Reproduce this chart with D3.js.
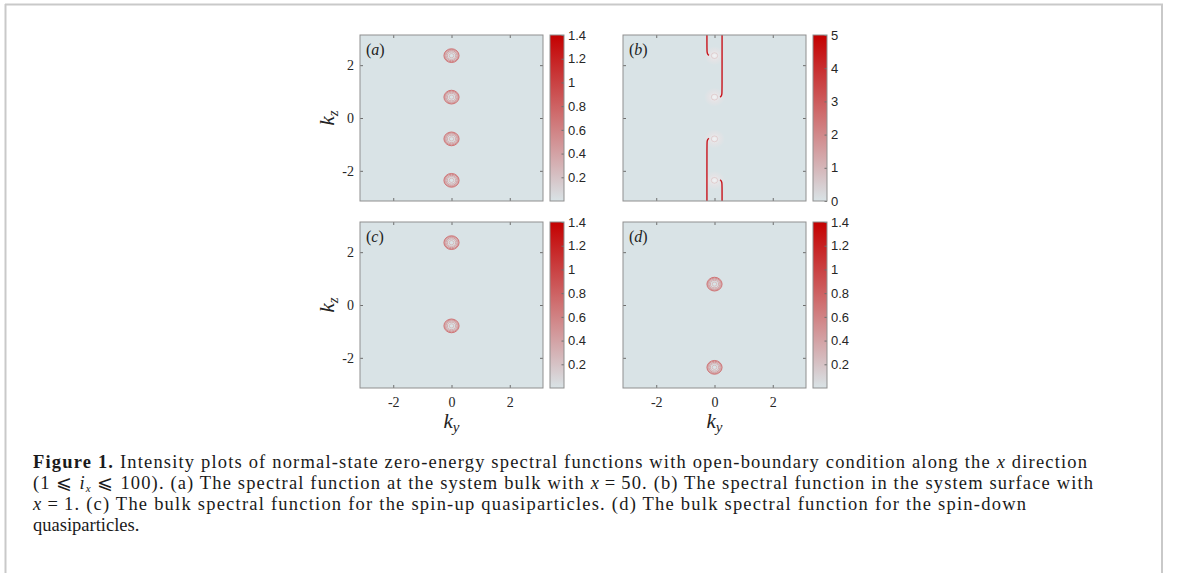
<!DOCTYPE html>
<html>
<head>
<meta charset="utf-8">
<script src="https://cdn.jsdelivr.net/npm/d3@7"></script>
<style>
body { margin: 0; background: #fff; }
</style>
</head>
<body>
<script>
// values
var kTicks = [-2, 0, 2];
var bulkTicks = [0.2, 0.4, 0.6, 0.8, 1, 1.2, 1.4];
var surfTicks = [0, 1, 2, 3, 4, 5];
var nodesA = [2.36, 0.79, -0.79, -2.36];
var nodesB = [2.36, 0.79, -0.79, -2.36];
var nodesC = [2.36, -0.79];
var nodesD = [0.79, -2.36];
var ringRadius = [0.26, 0.23, 0.19, 0.14, 0.08];
var ringLevel = [0.62, 0.5, 0.4, 0.3, 0.22];
// surface arcs in (b), [ky, kz]
var arcs = [
  [[-0.26, 3.2], [-0.26, 2.6], [-0.255, 2.47], [-0.23, 2.4], [-0.19, 2.37]],
  [[0.26, 3.2], [0.26, 1.02], [0.255, 0.89], [0.23, 0.82], [0.19, 0.79]],
  [[-0.19, -0.77], [-0.23, -0.8], [-0.255, -0.87], [-0.26, -1.0], [-0.26, -3.2]],
  [[0.19, -2.34], [0.23, -2.37], [0.255, -2.44], [0.26, -2.57], [0.26, -3.2]]
];

var W = 1179, H = 573;
var pw = 183, ph = 166;
var lowColor = "#d9e3e6", highColor = "#c40000";

var svg = d3.select("body").append("svg")
    .attr("width", W).attr("height", H)
    .style("display", "block");

svg.append("rect").attr("width", W).attr("height", H).attr("fill", "#fff");

// page frame
var frame = "#c9c9c9";
svg.append("line").attr("x1", 5.5).attr("x2", 5.5).attr("y1", 4).attr("y2", H).attr("stroke", frame).attr("stroke-width", 2);
svg.append("line").attr("x1", 5).attr("x2", 1163).attr("y1", 4.5).attr("y2", 4.5).attr("stroke", frame).attr("stroke-width", 2);
svg.append("line").attr("x1", 1162).attr("x2", 1162).attr("y1", 4).attr("y2", H).attr("stroke", frame).attr("stroke-width", 2);

var defs = svg.append("defs");

var panels = [
  {id: "a", x: 360, y: 35, nodes: nodesA, vmax: 1.4, cticks: bulkTicks, left: true, bottom: false},
  {id: "b", x: 623, y: 35, nodes: nodesB, vmax: 5, cticks: surfTicks, left: false, bottom: false, surface: true},
  {id: "c", x: 360, y: 222, nodes: nodesC, vmax: 1.4, cticks: bulkTicks, left: true, bottom: true},
  {id: "d", x: 623, y: 222, nodes: nodesD, vmax: 1.4, cticks: bulkTicks, left: false, bottom: true}
];

var serif = "'Liberation Serif', 'Times New Roman', serif";
var sans = "'Liberation Sans', Arial, sans-serif";

function drawPanel(p) {
  var g = svg.append("g").attr("transform", "translate(" + p.x + "," + p.y + ")");
  var x = d3.scaleLinear().domain([-Math.PI, Math.PI]).range([0, pw]);
  var y = d3.scaleLinear().domain([-Math.PI, Math.PI]).range([ph, 0]);
  var color = d3.scaleLinear().domain([0, p.vmax]).range([lowColor, highColor]);

  defs.append("clipPath").attr("id", "clip-" + p.id)
    .append("rect").attr("width", pw).attr("height", ph);

  g.append("rect").attr("width", pw).attr("height", ph).attr("fill", lowColor);

  var plot = g.append("g").attr("clip-path", "url(#clip-" + p.id + ")");

  if (p.surface) {
    var glow = defs.append("radialGradient").attr("id", "glow");
    glow.append("stop").attr("offset", "0%").attr("stop-color", "#f6f6f7").attr("stop-opacity", 0.85);
    glow.append("stop").attr("offset", "55%").attr("stop-color", "#efe3e5").attr("stop-opacity", 0.45);
    glow.append("stop").attr("offset", "100%").attr("stop-color", "#efe3e5").attr("stop-opacity", 0);

    plot.selectAll(".blob").data(p.nodes).enter().append("ellipse")
      .attr("cx", x(0)).attr("cy", function(d) { return y(d); })
      .attr("rx", x(0.36) - x(0)).attr("ry", y(0) - y(0.36))
      .attr("fill", "url(#glow)");
    plot.selectAll(".bring").data(p.nodes).enter().append("ellipse")
      .attr("cx", x(0)).attr("cy", function(d) { return y(d); })
      .attr("rx", x(0.11) - x(0)).attr("ry", y(0) - y(0.11))
      .attr("fill", "none")
      .attr("stroke", color(1.5)).attr("stroke-opacity", 0.45).attr("stroke-width", 0.8);

    var line = d3.line()
      .x(function(d) { return x(d[0]); })
      .y(function(d) { return y(d[1]); })
      .curve(d3.curveBasis);
    plot.selectAll(".arc").data(arcs).enter().append("path")
      .attr("d", line)
      .attr("fill", "none")
      .attr("stroke", "#c8141c")
      .attr("stroke-width", 1.4);
  } else {
    var rings = [];
    p.nodes.forEach(function(n) {
      ringRadius.forEach(function(r, i) { rings.push({kz: n, r: r, v: ringLevel[i] * p.vmax}); });
    });
    plot.selectAll(".ring").data(rings).enter().append("ellipse")
      .attr("cx", x(0)).attr("cy", function(d) { return y(d.kz); })
      .attr("rx", function(d) { return x(d.r) - x(0); })
      .attr("ry", function(d) { return y(0) - y(d.r); })
      .attr("fill", "none")
      .attr("stroke", function(d) { return color(d.v); })
      .attr("stroke-width", 0.8);
  }

  // axes, MATLAB style inward ticks on every side
  var fmt = function(d) { return d < 0 ? "-" + Math.abs(d) : "" + d; };
  var axL = g.append("g").call(d3.axisLeft(y).tickValues(kTicks).tickSize(-3).tickPadding(6)
      .tickFormat(p.left ? fmt : ""));
  var axR = g.append("g").attr("transform", "translate(" + pw + ",0)")
      .call(d3.axisRight(y).tickValues(kTicks).tickSize(-3).tickFormat(""));
  var axT = g.append("g").call(d3.axisTop(x).tickValues(kTicks).tickSize(-3).tickFormat(""));
  var axB = g.append("g").attr("transform", "translate(0," + ph + ")")
      .call(d3.axisBottom(x).tickValues(kTicks).tickSize(-3).tickPadding(9)
      .tickFormat(p.bottom ? fmt : ""));
  [axL, axR, axT, axB].forEach(function(a) {
    a.select(".domain").remove();
    a.selectAll(".tick line").attr("stroke", "#6e6e6e");
    a.selectAll(".tick text").attr("fill", "#262626")
      .style("font-family", serif).style("font-size", "14px");
  });

  g.append("rect").attr("width", pw).attr("height", ph)
    .attr("fill", "none").attr("stroke", "#8f8f8f").attr("stroke-width", 1);

  var lab = g.append("text").attr("x", 6).attr("y", 20)
    .style("font-family", serif).style("font-size", "16px").attr("fill", "#222");
  lab.append("tspan").text("(");
  lab.append("tspan").style("font-style", "italic").text(p.id);
  lab.append("tspan").text(")");

  // colorbar
  var cbx = pw + 7, cbw = 14;
  var cy = d3.scaleLinear().domain([0, p.vmax]).range([ph, 0]);
  var grad = defs.append("linearGradient").attr("id", "cb-" + p.id)
    .attr("x1", 0).attr("y1", 1).attr("x2", 0).attr("y2", 0);
  grad.selectAll("stop").data(d3.range(0, 1.01, 0.25)).enter().append("stop")
    .attr("offset", function(d) { return d * 100 + "%"; })
    .attr("stop-color", function(d) { return color(d * p.vmax); });
  var cb = g.append("g").attr("transform", "translate(" + cbx + ",0)");
  cb.append("rect").attr("width", cbw).attr("height", ph).attr("fill", "url(#cb-" + p.id + ")");
  var cax = cb.append("g").attr("transform", "translate(" + cbw + ",0)")
    .call(d3.axisRight(cy).tickValues(p.cticks).tickSize(-2.5).tickPadding(4)
    .tickFormat(function(d) { return d3.format("~g")(d); }));
  cax.select(".domain").remove();
  cax.selectAll(".tick line").attr("stroke", "#6e6e6e");
  cax.selectAll(".tick text").attr("fill", "#262626")
    .style("font-family", sans).style("font-size", "13px");
  cb.append("rect").attr("width", cbw).attr("height", ph)
    .attr("fill", "none").attr("stroke", "#8f8f8f").attr("stroke-width", 1);

  if (p.left) {
    var kz = g.append("text")
      .attr("transform", "translate(-26," + (ph / 2) + ") rotate(-90)")
      .attr("text-anchor", "middle")
      .style("font-family", serif).style("font-size", "21px").attr("fill", "#222");
    kz.append("tspan").style("font-style", "italic").text("k");
    kz.append("tspan").style("font-style", "italic").style("font-size", "15px").attr("dy", 4).text("z");
  }
  if (p.bottom) {
    var ky = g.append("text")
      .attr("x", pw / 2).attr("y", ph + 40)
      .attr("text-anchor", "middle")
      .style("font-family", serif).style("font-size", "21px").attr("fill", "#222");
    ky.append("tspan").style("font-style", "italic").text("k");
    ky.append("tspan").style("font-style", "italic").style("font-size", "15px").attr("dy", 4).text("y");
  }
}

panels.forEach(drawPanel);

// caption
var capLines = [
  {w: 1054, parts: [["Figure 1.", "b"], [" Intensity plots of normal-state zero-energy spectral functions with open-boundary condition along the ", ""], ["x", "i"], [" direction", ""]]},
  {w: 1060, parts: [["(1 \u2A7D ", ""], ["i", "i"], ["x", "s"], [" \u2A7D 100). (a) The spectral function at the system bulk with ", ""], ["x", "i"], ["\u2009=\u200950. (b) The spectral function in the system surface with", ""]]},
  {w: 993, parts: [["x", "i"], ["\u2009=\u20091. (c) The bulk spectral function for the spin-up quasiparticles. (d) The bulk spectral function for the spin-down", ""]]},
  {w: 0, parts: [["quasiparticles.", ""]]}
];

var capTexts = capLines.map(function(l, i) {
  var t = svg.append("text")
    .attr("x", 33).attr("y", 468 + i * 21)
    .style("font-family", serif).style("font-size", "17px").attr("fill", "#1a1a1a");
  l.parts.forEach(function(pt, j) {
    var s = t.append("tspan").text(pt[0]);
    if (pt[1] === "b") s.style("font-weight", "bold");
    if (pt[1] === "i") s.style("font-style", "italic");
    if (pt[1] === "s") s.style("font-style", "italic").style("font-size", "11px").attr("dy", 3);
    if (j > 0 && l.parts[j - 1][1] === "s") s.attr("dy", -3);
  });
  return t;
});

// size the caption font so the first line spans close to the reference
var natural = capTexts[0].node().getComputedTextLength();
var fs = Math.max(15, Math.min(18.5, 17 * capLines[0].w / natural));
capTexts.forEach(function(t, i) {
  t.style("font-size", fs + "px");
  if (capLines[i].w) t.attr("textLength", capLines[i].w).attr("lengthAdjust", "spacing");
});
</script>
</body>
</html>
